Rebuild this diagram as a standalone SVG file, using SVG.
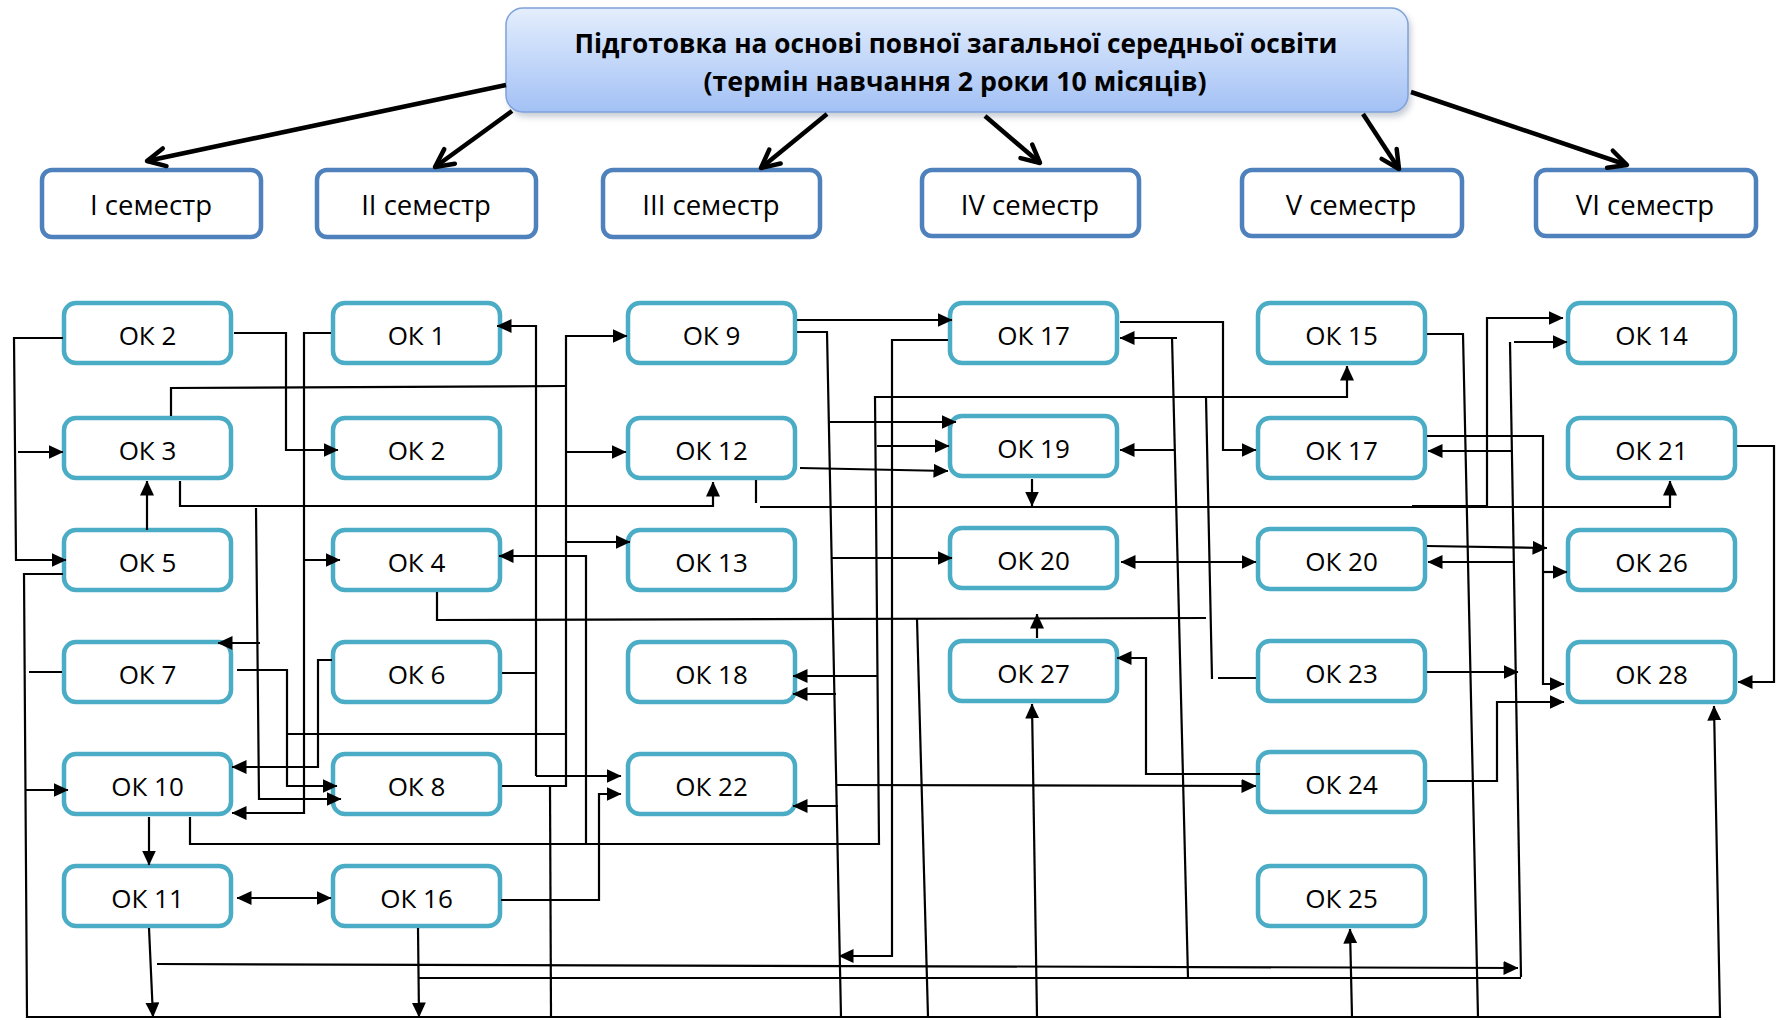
<svg xmlns="http://www.w3.org/2000/svg" width="1776" height="1020" viewBox="0 0 1776 1020">
<defs>
<linearGradient id="tg" x1="0" y1="0" x2="0" y2="1">
<stop offset="0" stop-color="#e4eefd"/>
<stop offset="1" stop-color="#a3c1f5"/>
</linearGradient>
<filter id="sh" x="-5%" y="-20%" width="110%" height="150%">
<feGaussianBlur stdDeviation="3"/>
</filter>
<marker id="a" viewBox="0 0 15 14" refX="14.5" refY="7" markerWidth="15" markerHeight="14" markerUnits="userSpaceOnUse" orient="auto-start-reverse">
<path d="M0,0 L15,7 L0,14 z" fill="#000"/>
</marker>
<marker id="o" viewBox="0 0 24 24" refX="21" refY="12" markerWidth="24" markerHeight="24" markerUnits="userSpaceOnUse" orient="auto">
<path d="M3,3 L21,12 L3,21" fill="none" stroke="#000" stroke-width="4.5" stroke-linecap="round" stroke-linejoin="round"/>
</marker>
</defs>
<style>
.node rect{fill:#fff;stroke:#4bacc6;stroke-width:4.5}
.node text{font-family:"Open Sans","Liberation Sans",sans-serif;font-size:26px;text-anchor:middle;fill:#000}
.sem rect{fill:#fff;stroke:#4f81bd;stroke-width:4.5}
.sem text{font-family:"Open Sans","Liberation Sans",sans-serif;font-size:27.5px;text-anchor:middle;fill:#000}
.title text{font-family:"Open Sans","Liberation Sans",sans-serif;font-size:26px;font-weight:bold;text-anchor:middle;fill:#000}
.c path{fill:none;stroke:#000;stroke-width:2.2}
.c path.ar{marker-end:url(#a)}
.c path.bi{marker-start:url(#a);marker-end:url(#a)}
.c path.th{stroke-width:4.5;marker-end:url(#o)}
</style>
<rect width="1776" height="1020" fill="#fff"/>

<g id="title" class="title">
<rect x="509" y="12" width="902" height="105" rx="17" fill="#9aa4b4" opacity="0.55" filter="url(#sh)"/>
<rect x="506" y="8" width="902" height="104" rx="17" fill="url(#tg)" stroke="#7ea2da" stroke-width="1.5"/>
<text x="956" y="53" textLength="763" lengthAdjust="spacingAndGlyphs">Підготовка на основі повної загальної середньої освіти</text>
<text x="955" y="91" textLength="503" lengthAdjust="spacingAndGlyphs">(термін навчання 2 роки 10 місяців)</text>
</g>

<g id="sem1" class="sem"><rect x="42" y="170" width="219" height="67" rx="10"/><text x="151" y="215">І семестр</text></g>
<g id="sem2" class="sem"><rect x="317" y="170" width="219" height="67" rx="10"/><text x="426" y="215">ІІ семестр</text></g>
<g id="sem3" class="sem"><rect x="603" y="170" width="217" height="67" rx="10"/><text x="711" y="215">ІІІ семестр</text></g>
<g id="sem4" class="sem"><rect x="922" y="170" width="217" height="66" rx="10"/><text x="1030" y="215">IV семестр</text></g>
<g id="sem5" class="sem"><rect x="1242" y="170" width="220" height="66" rx="10"/><text x="1351" y="215">V семестр</text></g>
<g id="sem6" class="sem"><rect x="1536" y="170" width="220" height="66" rx="10"/><text x="1645" y="215">VI семестр</text></g>

<g id="c1-ok2" class="node"><rect x="64" y="303" width="167" height="60" rx="12"/><text x="147.5" y="345">ОК 2</text></g>
<g id="c1-ok3" class="node"><rect x="64" y="418" width="167" height="60" rx="12"/><text x="147.5" y="460">ОК 3</text></g>
<g id="c1-ok5" class="node"><rect x="64" y="530" width="167" height="60" rx="12"/><text x="147.5" y="572">ОК 5</text></g>
<g id="c1-ok7" class="node"><rect x="64" y="642" width="167" height="60" rx="12"/><text x="147.5" y="684">ОК 7</text></g>
<g id="c1-ok10" class="node"><rect x="64" y="754" width="167" height="60" rx="12"/><text x="147.5" y="796">ОК 10</text></g>
<g id="c1-ok11" class="node"><rect x="64" y="866" width="167" height="60" rx="12"/><text x="147.5" y="908">ОК 11</text></g>

<g id="c2-ok1" class="node"><rect x="333" y="303" width="167" height="60" rx="12"/><text x="416.5" y="345">ОК 1</text></g>
<g id="c2-ok2" class="node"><rect x="333" y="418" width="167" height="60" rx="12"/><text x="416.5" y="460">ОК 2</text></g>
<g id="c2-ok4" class="node"><rect x="333" y="530" width="167" height="60" rx="12"/><text x="416.5" y="572">ОК 4</text></g>
<g id="c2-ok6" class="node"><rect x="333" y="642" width="167" height="60" rx="12"/><text x="416.5" y="684">ОК 6</text></g>
<g id="c2-ok8" class="node"><rect x="333" y="754" width="167" height="60" rx="12"/><text x="416.5" y="796">ОК 8</text></g>
<g id="c2-ok16" class="node"><rect x="333" y="866" width="167" height="60" rx="12"/><text x="416.5" y="908">ОК 16</text></g>

<g id="c3-ok9" class="node"><rect x="628" y="303" width="167" height="60" rx="12"/><text x="711.5" y="345">ОК 9</text></g>
<g id="c3-ok12" class="node"><rect x="628" y="418" width="167" height="60" rx="12"/><text x="711.5" y="460">ОК 12</text></g>
<g id="c3-ok13" class="node"><rect x="628" y="530" width="167" height="60" rx="12"/><text x="711.5" y="572">ОК 13</text></g>
<g id="c3-ok18" class="node"><rect x="628" y="642" width="167" height="60" rx="12"/><text x="711.5" y="684">ОК 18</text></g>
<g id="c3-ok22" class="node"><rect x="628" y="754" width="167" height="60" rx="12"/><text x="711.5" y="796">ОК 22</text></g>

<g id="c4-ok17" class="node"><rect x="950" y="303" width="167" height="60" rx="12"/><text x="1033.5" y="345">ОК 17</text></g>
<g id="c4-ok19" class="node"><rect x="950" y="416" width="167" height="60" rx="12"/><text x="1033.5" y="458">ОК 19</text></g>
<g id="c4-ok20" class="node"><rect x="950" y="528" width="167" height="60" rx="12"/><text x="1033.5" y="570">ОК 20</text></g>
<g id="c4-ok27" class="node"><rect x="950" y="641" width="167" height="60" rx="12"/><text x="1033.5" y="683">ОК 27</text></g>

<g id="c5-ok15" class="node"><rect x="1258" y="303" width="167" height="60" rx="12"/><text x="1341.5" y="345">ОК 15</text></g>
<g id="c5-ok17" class="node"><rect x="1258" y="418" width="167" height="60" rx="12"/><text x="1341.5" y="460">ОК 17</text></g>
<g id="c5-ok20" class="node"><rect x="1258" y="529" width="167" height="60" rx="12"/><text x="1341.5" y="571">ОК 20</text></g>
<g id="c5-ok23" class="node"><rect x="1258" y="641" width="167" height="60" rx="12"/><text x="1341.5" y="683">ОК 23</text></g>
<g id="c5-ok24" class="node"><rect x="1258" y="752" width="167" height="60" rx="12"/><text x="1341.5" y="794">ОК 24</text></g>
<g id="c5-ok25" class="node"><rect x="1258" y="866" width="167" height="60" rx="12"/><text x="1341.5" y="908">ОК 25</text></g>

<g id="c6-ok14" class="node"><rect x="1568" y="303" width="167" height="60" rx="12"/><text x="1651.5" y="345">ОК 14</text></g>
<g id="c6-ok21" class="node"><rect x="1568" y="418" width="167" height="60" rx="12"/><text x="1651.5" y="460">ОК 21</text></g>
<g id="c6-ok26" class="node"><rect x="1568" y="530" width="167" height="60" rx="12"/><text x="1651.5" y="572">ОК 26</text></g>
<g id="c6-ok28" class="node"><rect x="1568" y="642" width="167" height="60" rx="12"/><text x="1651.5" y="684">ОК 28</text></g>

<g id="connectors" class="c">
<path class="th" d="M506,85 L147,161"/>
<path class="th" d="M512,111 L435,167"/>
<path class="th" d="M827,114 L761,168"/>
<path class="th" d="M985,116 L1040,163"/>
<path class="th" d="M1363,114 L1399,169"/>
<path class="th" d="M1411,92 L1627,165"/>

<path class="ar" d="M63,338 H14 L16,560 H66"/>
<path class="ar" d="M18,452 H63"/>
<path class="ar" d="M63,574 H24 L27,1017 H1720 L1714,706"/>
<path class="ar" d="M26,790 H68"/>
<path d="M29,672 H62"/>
<path class="ar" d="M147,530 V481"/>
<path d="M171,416 V388 L566,386"/>
<path class="ar" d="M180,481 V506 H713 V482"/>
<path class="ar" d="M256,508 L259,799 H341"/>
<path class="ar" d="M260,643 H218"/>
<path class="ar" d="M234,333 H286 V450 H338"/>
<path class="ar" d="M331,333 H304 V813 H232"/>
<path class="ar" d="M305,560 H340"/>
<path class="ar" d="M237,670 H287 V786 H337"/>
<path d="M287,734 H566"/>
<path class="ar" d="M332,660 H318 V767 H232"/>
<path class="ar" d="M149,817 V865"/>
<path class="bi" d="M237,898 H331"/>
<path class="ar" d="M501,900 H599 V794 H621"/>
<path d="M502,673 H536"/>
<path class="ar" d="M536,776 V326 H497"/>
<path class="ar" d="M536,776 H621"/>
<path class="ar" d="M502,786 H566 V336 H627"/>
<path class="ar" d="M567,452 H626"/>
<path class="ar" d="M566,542 H630"/>
<path d="M550,786 L551,1017"/>
<path class="ar" d="M586,844 V556 H499"/>
<path class="ar" d="M190,817 V844 H879 L875,397 H1347 V366"/>
<path class="ar" d="M877,446 H949"/>
<path class="ar" d="M878,676 H793"/>
<path d="M437,592 V620 L1206,618"/>
<path class="ar" d="M797,320 H952"/>
<path d="M797,332 H827 L841,1017"/>
<path class="ar" d="M830,422 H956"/>
<path class="ar" d="M832,558 H952"/>
<path class="ar" d="M836,694 H793"/>
<path class="ar" d="M838,806 H793"/>
<path class="ar" d="M837,785 L1256,786"/>
<path class="ar" d="M948,340 H892 V956 H839"/>
<path class="ar" d="M800,468 L948,471"/>
<path d="M756,480 V503"/>
<path class="ar" d="M760,507 H1670 V481"/>
<path class="ar" d="M1412,506 H1487 V318 H1563"/>
<path class="ar" d="M1032,479 V506"/>
<path class="ar" d="M1037,638 V614"/>
<path d="M917,619 L928,1017"/>
<path class="ar" d="M1037,1017 L1032,704"/>
<path class="ar" d="M1260,774 H1146 V658 H1117"/>
<path class="ar" d="M1177,338 H1120"/>
<path d="M1172,337 L1188,978"/>
<path class="ar" d="M1174,450 H1120"/>
<path class="ar" d="M1120,322 H1223 V450 H1256"/>
<path class="bi" d="M1121,562 H1256"/>
<path d="M1206,397 L1212,679"/>
<path d="M1218,678 H1256"/>
<path d="M1427,334 H1463 L1478,1017"/>
<path d="M1510,342 L1521,977"/>
<path class="ar" d="M1514,342 H1567"/>
<path class="ar" d="M1513,451 H1428"/>
<path class="ar" d="M1515,562 H1428"/>
<path class="ar" d="M1427,672 H1518"/>
<path class="ar" d="M1427,436 H1543 V684 H1564"/>
<path class="ar" d="M1543,572 H1567"/>
<path class="ar" d="M1427,546 L1547,548"/>
<path class="ar" d="M1427,781 H1497 V702 H1564"/>
<path class="ar" d="M1737,446 H1774 V682 H1738"/>
<path class="ar" d="M1352,1017 L1350,929"/>
<path class="ar" d="M149,928 L153,1017"/>
<path class="ar" d="M418,928 L419,1017"/>
<path class="ar" d="M157,964 L1518,968"/>
<path d="M419,978 H1521"/>
</g>
</svg>
